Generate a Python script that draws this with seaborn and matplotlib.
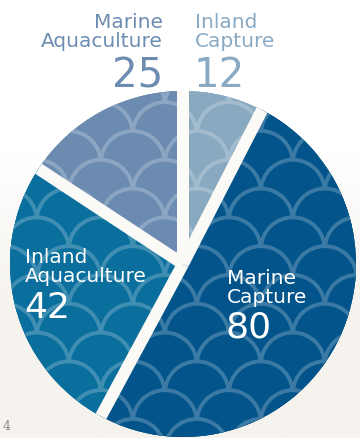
import numpy as np
import matplotlib
matplotlib.use("Agg")
import matplotlib.pyplot as plt
from matplotlib.patches import Circle
import matplotlib.colors as mcolors
import seaborn as sns

# ---------------- data ----------------
categories = ["Inland Capture", "Marine Capture", "Inland Aquaculture", "Marine Aquaculture"]
values = [12, 80, 42, 25]
name_lines = ["Inland\nCapture", "Marine\nCapture", "Inland\nAquaculture", "Marine\nAquaculture"]
value_labels = ["12", "80", "42", "25"]
slice_colors = ["#88a9c0", "#02548a", "#0a6f9d", "#6c8bb1"]
label_colors = ["#8aaac3", "white", "white", "#6d8cb1"]

sns.set_theme(style="white")
plt.rcParams['font.family'] = ['DejaVu Sans']

W, H = 360, 439
fig = plt.figure(figsize=(W / 100, H / 100), dpi=100)
fig.patch.set_facecolor("white")

# soft paper-like background toward the bottom
bg_ax = fig.add_axes([0, 0, 1, 1], zorder=-10)
t = np.clip((np.linspace(0, 1, 200) - 0.35) / 0.35, 0, 1)[:, None]
top = np.array(mcolors.to_rgb("#ffffff"))
bot = np.array(mcolors.to_rgb("#f6f3ee"))
grad = (top * (1 - t) + bot * t)[:, None, :].repeat(2, axis=1)
bg_ax.imshow(grad, aspect="auto", extent=[0, 1, 0, 1], origin="upper")
bg_ax.axis("off")

# ---------------- pie ----------------
R = 173
gap = 12
cx, cy = 183, 265
ax = fig.add_axes([(cx - R) / W, (H - cy - R) / H, 2 * R / W, 2 * R / H])
wedges, _ = ax.pie(values, colors=slice_colors, startangle=90, counterclock=False,
                   radius=1, wedgeprops=dict(linewidth=0))
ax.set_xlim(-1, 1)
ax.set_ylim(-1, 1)
ax.set_aspect("equal")
ax.axis("off")

# fish-scale texture inside each slice
r = 32 / R
dx = 2 * r
dy = 0.9 * r
rows = np.arange(1.25, -1.35, -dy)
for w, c in zip(wedges, slice_colors):
    base = np.array(mcolors.to_rgb(c))
    stroke = base * 0.78 + 0.22
    for i, y in enumerate(rows):
        off = (i % 2) * r
        for x in np.arange(-1.4 + off, 1.4, dx):
            circ = Circle((x, y), r, fc=c, ec=stroke, lw=2.8, zorder=2)
            ax.add_patch(circ)
            circ.set_clip_path(w)

# gaps between slices (radial cuts along each slice boundary)
for w in wedges:
    th = np.deg2rad(w.theta1)
    ax.plot([0, np.cos(th)], [0, np.sin(th)], color="#fbfaf7",
            lw=gap * 72 / 100, solid_capstyle="butt", zorder=5)

# ---------------- labels ----------------
def fx(px):
    return px / W

def fy(py):
    return 1 - py / H

name_pos = {"Marine Aquaculture": (163, 47, "right"),
            "Inland Capture": (195, 47, "left"),
            "Inland Aquaculture": (25, 282, "left"),
            "Marine Capture": (227, 303, "left")}
num_pos = {"Marine Aquaculture": (163, 87, 29),
           "Inland Capture": (194, 87, 29),
           "Inland Aquaculture": (24, 318, 26),
           "Marine Capture": (226, 338, 26)}

for cat, nl, vl, col in zip(categories, name_lines, value_labels, label_colors):
    x, y, ha = name_pos[cat]
    fig.text(fx(x), fy(y), nl, ha=ha, va="baseline", multialignment=ha,
             fontsize=14.5, color=col, linespacing=1.0)
    nx, ny, fs = num_pos[cat]
    fig.text(fx(nx), fy(ny), vl, ha=ha, va="baseline", fontsize=fs, color=col)

fig.text(fx(3), fy(430), "4", ha="left", va="baseline", fontsize=9,
         color="#8a8a8a", family="DejaVu Serif")

fig.savefig("out.png", dpi=100, facecolor=fig.get_facecolor())
